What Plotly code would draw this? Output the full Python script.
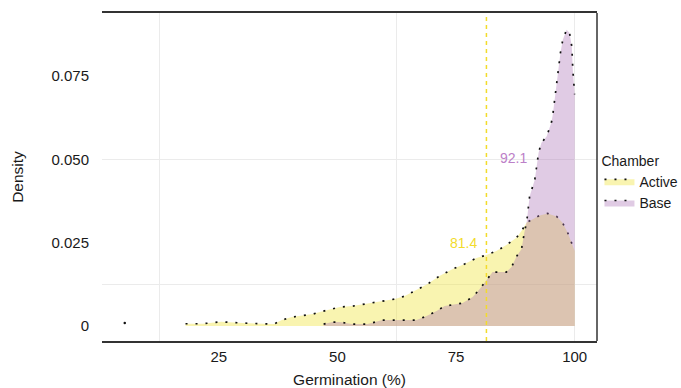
import plotly.graph_objects as go

# ---- data ----
chambers = ["Active", "Base"]
active_x = [18.0, 21.6, 25.5, 30.0, 36.6, 38.3, 40.4, 41.8, 44.8, 47.1, 49.2, 50.5, 53.2, 56.8, 59.5,
            62.1, 64.2, 66.9, 69.0, 71.5, 74.3, 76.8, 79.3, 81.4, 83.5, 85.6, 87.8, 89.0, 89.9,
            92.6, 94.3, 96.2, 97.4, 98.5, 100.0]
active_y = [0.0007, 0.0007, 0.0013, 0.0009, 0.0006, 0.0018, 0.0027, 0.0030, 0.0036, 0.0045, 0.0051,
            0.0057, 0.0060, 0.0069, 0.0075, 0.0081, 0.0090, 0.0111, 0.0126, 0.0150, 0.0171, 0.0186,
            0.0204, 0.0213, 0.0225, 0.0243, 0.0266, 0.0290, 0.0311, 0.0332, 0.0338, 0.0329, 0.0311,
            0.0281, 0.0225]
active_tail_x = [5.2]
active_tail_y = [0.0009]
base_x = [47.1, 49.0, 50.5, 53.0, 56.4, 59.5, 66.7, 68.8, 70.9, 72.6, 76.4, 78.5, 80.0, 81.2, 82.7,
          85.6, 86.7, 87.8, 88.8, 89.4, 89.9, 90.5, 91.6, 92.4, 93.0, 94.1, 95.1, 95.4, 96.2, 96.6,
          97.0, 97.5, 98.3, 98.9, 99.4, 99.6, 100.0]
base_y = [0.0006, 0.0012, 0.0012, 0.0006, 0.0006, 0.0018, 0.0018, 0.0030, 0.0045, 0.0060, 0.0069,
          0.0087, 0.0111, 0.0135, 0.0162, 0.0162, 0.0177, 0.0210, 0.0231, 0.0281, 0.0314, 0.0389,
          0.0440, 0.0521, 0.0550, 0.0569, 0.0611, 0.0635, 0.0731, 0.0778, 0.0820, 0.0859, 0.0889,
          0.0880, 0.0838, 0.0769, 0.0695]
means = {"Active": 81.4, "Base": 92.1}
x_ticks = [25, 50, 75, 100]
y_ticks = [0, 0.025, 0.05, 0.075]
y_tick_text = ["0", "0.025", "0.050", "0.075"]
x_grid = [12.5, 62.5, 100]
y_grid = [0.0125, 0.05]

FONT = "Liberation Sans, Arial, sans-serif"
TXT = "#1a1a1a"
YEL_LINE = "#F2DC2C"
DOT = "2px,8px"
fig = go.Figure()

fig.add_trace(go.Scatter(
    x=active_x, y=active_y, name="Active", mode="lines", fill="tozeroy",
    fillcolor="rgba(240,228,66,0.42)",
    line=dict(color="#111111", width=1.7, dash=DOT),
))
fig.add_trace(go.Scatter(
    x=active_tail_x, y=active_tail_y, mode="markers", showlegend=False,
    marker=dict(color="#111111", size=2.5),
))
fig.add_trace(go.Scatter(
    x=base_x, y=base_y, name="Base", mode="lines", fill="tozeroy",
    fillcolor="rgba(168,110,180,0.36)",
    line=dict(color="#111111", width=1.7, dash=DOT),
))

fig.add_vline(x=means["Active"], line=dict(color=YEL_LINE, width=1.5, dash="4px,4px"))

fig.add_annotation(x=means["Active"], y=0.025, text=f"{means['Active']:.1f}", showarrow=False,
                   xanchor="right", xshift=-7, font=dict(color=YEL_LINE, size=14, family=FONT))
fig.add_annotation(x=means["Base"], y=0.0505, text=f"{means['Base']:.1f}", showarrow=False,
                   xanchor="right", xshift=-8, font=dict(color="#BC80C8", size=14, family=FONT))

# right panel border
fig.add_shape(type="line", xref="paper", yref="paper", x0=1, x1=1, y0=0, y1=1,
              line=dict(color="#333333", width=1.5))

fig.update_layout(
    width=681, height=388,
    margin=dict(l=102, r=84, t=13, b=47, autoexpand=False),
    paper_bgcolor="white", plot_bgcolor="white",
    font=dict(family=FONT, color=TXT, size=15),
    legend=dict(title=dict(text="Chamber", font=dict(size=14)), x=1.005, y=0.59,
                xanchor="left", yanchor="top", font=dict(size=14),
                bgcolor="rgba(0,0,0,0)",
                tracegroupgap=0, itemwidth=30),
    xaxis=dict(range=[0.4, 104.7], tickvals=x_ticks, showgrid=False, zeroline=False,
               showline=True, mirror=True, linecolor="#333333", linewidth=1.6,
               ticks="", ticklabelstandoff=1, tickfont=dict(size=15),
               title=dict(text="Germination (%)", font=dict(size=15.5), standoff=12),
               minor=dict(tickvals=x_grid, showgrid=True, gridcolor="#EBEBEB", gridwidth=1, ticks="")),
    yaxis=dict(range=[-0.00447, 0.0939], tickvals=y_ticks, ticktext=y_tick_text, showgrid=False,
               zeroline=False, showline=False, ticks="", ticklabelstandoff=12, tickfont=dict(size=15),
               title=dict(text="Density", font=dict(size=15.5), standoff=24),
               minor=dict(tickvals=y_grid, showgrid=True, gridcolor="#EBEBEB", gridwidth=1, ticks="")),
)

fig.write_html("out.html", config={"displayModeBar": False},
               post_script="document.body.style.margin='0px';")
